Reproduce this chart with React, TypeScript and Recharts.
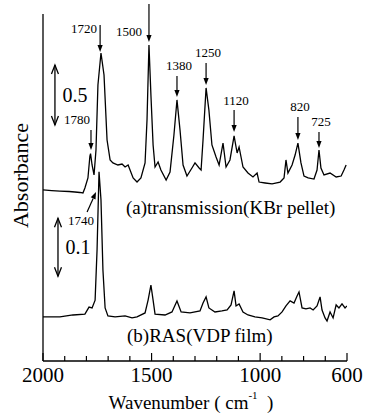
import React from "react";
import { LineChart, Line, XAxis, YAxis, ReferenceLine, ReferenceDot } from "recharts";

// (a) transmission spectrum, KBr pellet
const wavenumbersA = [
  2000, 1960, 1922, 1880, 1853, 1830, 1816, 1807, 1793, 1784, 1781, 1774, 1765, 1756, 1747, 1733,
  1719, 1705, 1691, 1678, 1655, 1636, 1622, 1608, 1585, 1567, 1549, 1530, 1521, 1512, 1503, 1493,
  1484, 1470, 1457, 1433, 1415, 1397, 1383, 1369, 1355, 1337, 1314, 1300, 1281, 1272, 1263, 1249,
  1236, 1222, 1203, 1189, 1171, 1157, 1139, 1120, 1106, 1097, 1079, 1056, 1033, 1014, 1005, 977,
  945, 908, 890, 881, 872, 853, 839, 826, 812, 798, 779, 752, 738, 729, 720, 706, 678, 650, 627, 614, 604,
];
const absorbanceA = [
  0.017, 0.012, 0.008, 0.004, 0.0, -0.004, -0.008, 0.033, 0.117, 0.3, 0.32, 0.225, 0.142, 0.35, 0.892, 1.158,
  0.975, 0.433, 0.267, 0.242, 0.225, 0.233, 0.208, 0.225, 0.117, 0.083, 0.117, 0.242, 0.6, 1.225, 0.808, 0.392,
  0.208, 0.25, 0.183, 0.1, 0.167, 0.475, 0.767, 0.517, 0.225, 0.133, 0.2, 0.242, 0.2, 0.183, 0.433, 0.867,
  0.683, 0.392, 0.292, 0.225, 0.408, 0.208, 0.267, 0.467, 0.325, 0.375, 0.208, 0.158, 0.125, 0.158, 0.083, 0.075,
  0.067, 0.083, 0.117, 0.267, 0.158, 0.225, 0.308, 0.408, 0.242, 0.133, 0.117, 0.108, 0.183, 0.35, 0.2, 0.142, 0.158, 0.125, 0.133, 0.183, 0.225,
];

// (b) RAS spectrum, VDP film
const wavenumbersB = [
  2000, 1922, 1862, 1807, 1788, 1774, 1760, 1751, 1742, 1733, 1724, 1714, 1701, 1668, 1622, 1590,
  1567, 1530, 1516, 1503, 1493, 1484, 1438, 1406, 1383, 1364, 1323, 1277, 1263, 1249, 1236, 1208,
  1176, 1152, 1134, 1120, 1111, 1097, 1079, 1056, 1024, 991, 954, 936, 918, 899, 881, 862, 844,
  830, 821, 807, 789, 770, 756, 738, 724, 715, 701, 692, 678, 664, 650, 637, 623, 609, 600,
];
const absorbanceB = [
  0, 0, 0.0034, 0.005, 0.017, 0.0155, 0.029, 0.116, 0.25, 0.202, 0.081, 0.0155, 0.0017, 0, 0.0017, -0.0017,
  0, 0.0069, 0.029, 0.055, 0.029, 0.005, 0.0034, 0.0086, 0.0276, 0.0086, 0.0069, 0.0103, 0.024, 0.0345, 0.0155, 0.0086,
  0.0103, 0.012, 0.0207, 0.0448, 0.019, 0.0224, 0.0086, 0.0034, 0, -0.0017, -0.005, 0, 0.0017, 0.0086, 0.019, 0.0276, 0.024,
  0.036, 0.043, 0.0155, 0.0138, 0.0155, 0.012, 0.019, 0.0345, 0.012, -0.0017, -0.0069, 0.0086, -0.0017, 0.0207, 0.0155, 0.0224, 0.0155, 0.019,
];

const xTicks = [600, 700, 800, 900, 1000, 1100, 1200, 1300, 1400, 1500, 1600, 1700, 1800, 1900, 2000];
const xTickLabels = [2000, 1500, 1000, 600];

// peak markers on (a)
const peakLabels = ["1720", "1500", "1380", "1250", "1120", "820", "725", "1780"];
const peakWavenumbers = [1737, 1512, 1383, 1249, 1120, 826, 729, 1779];
const arrowFrom = [1.392, 1.567, 0.967, 1.075, 0.683, 0.625, 0.5, 0.517];
const arrowTo = [1.167, 1.25, 0.792, 0.892, 0.5, 0.433, 0.367, 0.35];

const specA = wavenumbersA.map((wn, i) => ({ wn, abs: absorbanceA[i] }));
const specB = wavenumbersB.map((wn, i) => ({ wn, abs: absorbanceB[i] }));

const serif = { fontFamily: "Liberation Serif, Times New Roman, Times, serif" };

// text offset of each peak label relative to the arrow tail
const labelOffsets: Record<string, [number, number]> = {
  "1720": [-16, 4],
  "1500": [-20, 28],
  "1780": [-14, -10],
  "1740": [-6, 8],
};

const arrowShape = (label: string, fontSize = 13) => (p: any) => {
  const { x1, y1, x2, y2 } = p;
  const ang = Math.atan2(y2 - y1, x2 - x1);
  const hl = 7;
  const hw = 2.6;
  const bx = x2 - hl * Math.cos(ang);
  const by = y2 - hl * Math.sin(ang);
  const px = -Math.sin(ang) * hw;
  const py = Math.cos(ang) * hw;
  const [dx, dy] = labelOffsets[label] || [2, -10];
  return (
    <g>
      <line x1={x1} y1={y1} x2={bx} y2={by} stroke="#000" strokeWidth={1.2} />
      <polygon points={`${x2},${y2} ${bx + px},${by + py} ${bx - px},${by - py}`} fill="#000" />
      <text x={x1 + dx} y={y1 + dy} textAnchor="middle" dominantBaseline="central" fontSize={fontSize} style={serif}>
        {label}
      </text>
    </g>
  );
};

const scaleBarShape = (label: string) => (p: any) => {
  const { x1, y1, y2 } = p;
  const top = Math.min(y1, y2);
  const bot = Math.max(y1, y2);
  const x = x1;
  return (
    <g stroke="#000" strokeWidth={1.3} fill="none">
      <line x1={x} y1={top} x2={x} y2={bot} />
      <polyline points={`${x - 3.5},${top + 9} ${x},${top} ${x + 3.5},${top + 9}`} />
      <polyline points={`${x - 3.5},${bot - 9} ${x},${bot} ${x + 3.5},${bot - 9}`} />
      <text x={x + 20} y={(top + bot) / 2} stroke="none" fill="#000" textAnchor="middle" dominantBaseline="central" fontSize={20} style={serif}>
        {label}
      </text>
    </g>
  );
};

const textShape = (label: string) => (p: any) => (
  <text x={p.cx} y={p.cy} textAnchor="start" dominantBaseline="central" fontSize={19} style={serif}>
    {label}
  </text>
);

const BottomTick = (props: any) => {
  const { x, y, payload } = props;
  const major = xTickLabels.includes(payload.value);
  return (
    <g>
      <line x1={x} x2={x} y1={y} y2={y - (major ? 8 : 5)} stroke="#000" strokeWidth={1.2} />
      {major && (
        <text x={x} y={y + 14} textAnchor="middle" dominantBaseline="central" fontSize={21} style={serif} fill="#000">
          {payload.value}
        </text>
      )}
    </g>
  );
};

const TopTick = (props: any) => {
  const { x, y } = props;
  return <line x1={x} x2={x} y1={y} y2={y + 5} stroke="#000" strokeWidth={1.2} />;
};

export default function App() {
  return (
    <div>
      <style>{`body{margin:0;background:#fff}`}</style>
      <LineChart width={366} height={414} margin={{ top: 14, right: 19, bottom: 0, left: 0 }}>
        <XAxis
          dataKey="wn"
          type="number"
          domain={[600, 2000]}
          reversed
          allowDataOverflow
          ticks={xTicks}
          interval={0}
          tickLine={false}
          tickSize={0}
          tickMargin={0}
          tick={BottomTick}
          height={53}
          axisLine={{ stroke: "#000", strokeWidth: 1.3 }}
          label={(p: any) => {
            const vb = p.viewBox;
            return (
              <text x={vb.x + vb.width / 2 - 4} y={vb.y + 41} textAnchor="middle" dominantBaseline="central" fontSize={19} style={{ ...serif, whiteSpace: "pre" }}>
                Wavenumber ( cm<tspan dy={-7} fontSize={11}>-1</tspan><tspan dy={7}>  )</tspan>
              </text>
            );
          }}
        />
        <XAxis
          xAxisId="top"
          orientation="top"
          dataKey="wn"
          type="number"
          domain={[600, 2000]}
          reversed
          allowDataOverflow
          ticks={xTicks}
          interval={0}
          tickLine={false}
          tickSize={0}
          tickMargin={0}
          tick={TopTick}
          height={0}
          axisLine={{ stroke: "#000", strokeWidth: 1.3 }}
        />
        <YAxis
          yAxisId="a"
          type="number"
          domain={[-1.408, 1.483]}
          allowDataOverflow
          tick={false}
          tickLine={false}
          width={43}
          axisLine={{ stroke: "#000", strokeWidth: 1.3 }}
          label={(p: any) => {
            const vb = p.viewBox;
            return (
              <text transform={`translate(${vb.x + 20},${vb.y + vb.height / 2 - 12}) rotate(-90)`} textAnchor="middle" dominantBaseline="central" fontSize={22} style={serif}>
                Absorbance
              </text>
            );
          }}
        />
        <YAxis
          yAxisId="b"
          orientation="right"
          type="number"
          domain={[-0.0759, 0.522]}
          allowDataOverflow
          tick={false}
          tickLine={false}
          width={0}
          axisLine={{ stroke: "#000", strokeWidth: 1.3 }}
        />
        <Line data={specA} yAxisId="a" dataKey="abs" type="linear" stroke="#000" strokeWidth={1.3} dot={false} isAnimationActive={false} />
        <Line data={specB} yAxisId="b" dataKey="abs" type="linear" stroke="#000" strokeWidth={1.3} dot={false} isAnimationActive={false} />
        {peakLabels.map((label, i) => (
          <ReferenceLine
            key={label}
            yAxisId="a"
            ifOverflow="visible"
            segment={[
              { x: peakWavenumbers[i], y: arrowFrom[i] },
              { x: peakWavenumbers[i], y: arrowTo[i] },
            ]}
            shape={arrowShape(label)}
          />
        ))}
        <ReferenceLine
          yAxisId="a"
          ifOverflow="visible"
          segment={[
            { x: 1797, y: -0.167 },
            { x: 1756, y: 0 },
          ]}
          shape={arrowShape("1740")}
        />
        <ReferenceLine
          yAxisId="a"
          ifOverflow="visible"
          segment={[
            { x: 1945, y: 1.058 },
            { x: 1945, y: 0.558 },
          ]}
          shape={scaleBarShape("0.5")}
        />
        <ReferenceLine
          yAxisId="b"
          ifOverflow="visible"
          segment={[
            { x: 1931, y: 0.17 },
            { x: 1931, y: 0.07 },
          ]}
          shape={scaleBarShape("0.1")}
        />
        <ReferenceDot yAxisId="a" x={1618} y={-0.125} ifOverflow="visible" shape={textShape("(a)transmission(KBr pellet)")} />
        <ReferenceDot yAxisId="b" x={1613} y={-0.0328} ifOverflow="visible" shape={textShape("(b)RAS(VDP film)")} />
      </LineChart>
    </div>
  );
}
